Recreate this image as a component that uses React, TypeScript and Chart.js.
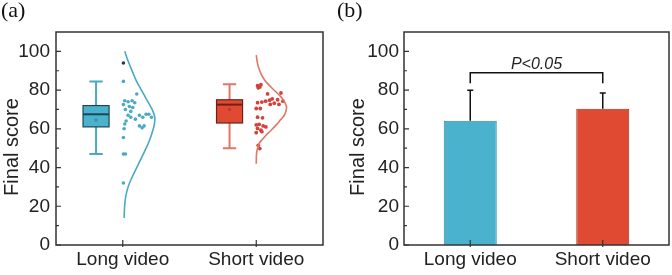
import React, { useEffect, useRef } from "react";
import { Chart, registerables } from "chart.js";
Chart.register(...registerables);

// ---------- shared ----------
const categories = ["Long video", "Short video"];
const yTicks = [0, 20, 40, 60, 80, 100];
const yMinorTicks = [10, 30, 50, 70, 90];
const yTitle = "Final score";

// ---------- panel (a) data ----------
const longPointsDx = [0.005, 0.015, 0.04, 0.07, 0.09, 0.005, 0.05, 0.075, 0.02, 0.06, 0.175, 0.195, 0.125, 0.15, 0.04, 0.06, 0.095, 0.025, 0.015, 0.125, 0.145, 0.16, 0.215, 0.01, 0.005, 0.005, 0.02, 0.005, 0.105];
const longPointsY = [84.5, 74.5, 74, 74.5, 73.5, 72.5, 71.5, 71, 70, 69, 67.5, 67.5, 67, 66, 67, 66, 65, 64, 62.5, 61.5, 60.5, 61.5, 66, 60, 55.5, 47, 47, 32, 78];
const longHighDx = [0.005];
const longHighY = [94];

const shortPointsDx = [0.01, 0.027, 0.015, 0.035, 0.085, 0.185, 0.12, 0.16, 0.2, 0.1, 0.07, 0.01, 0.042, 0.105, 0.135, 0.17, 0, 0.03, 0.01, 0.047, 0, 0.022, 0.052, 0.072, 0.01, 0.035, 0, 0.042, 0.015, 0.027];
const shortPointsY = [82.3, 81.6, 81.2, 82.8, 78, 78.5, 75.5, 75, 74.3, 74.8, 74.3, 73.5, 73.8, 72.6, 73.2, 72.6, 70.5, 70.5, 66, 65.7, 62, 62.3, 61.5, 61, 60.2, 59.3, 58, 58.5, 51.5, 49.8];

const longCurveY = [100, 95, 90, 85, 80, 75, 70, 66, 62, 58, 54, 50, 45, 40, 35, 30, 25, 20, 14];
const longCurveDx = [0.015, 0.04, 0.07, 0.1, 0.14, 0.18, 0.22, 0.24, 0.236, 0.22, 0.2, 0.175, 0.14, 0.105, 0.07, 0.04, 0.022, 0.014, 0.01];
const shortCurveY = [98, 93, 88.5, 85, 81.6, 76.5, 73.5, 71.3, 69, 67, 64.5, 61.9, 59, 56.7, 54.5, 52.4, 49.5, 47.3, 42];
const shortCurveDx = [0, 0.012, 0.035, 0.065, 0.11, 0.185, 0.215, 0.227, 0.222, 0.21, 0.18, 0.148, 0.108, 0.073, 0.045, 0.022, 0.008, 0.002, 0];

const boxLow = [47, 50];
const boxQ1 = [61, 63];
const boxMedian = [67.5, 72.5];
const boxQ3 = [72, 75];
const boxHigh = [84.5, 83];
const boxMean = [64.5, 70];

// ---------- panel (b) data ----------
const barMeans = [64.2, 70.3];
const barErrUpper = [79.9, 78.5];
const bracketY = 89;
const bracketFootY = 83.5;
const pLabel = "P<0.05";

// ---------- styles ----------
const BLUE = "#4ab2cd";
const BLUE_LINE = "#4aa9c4";
const BLUE_DARK = "#1d4656";
const RED = "#e04a33";
const RED_LINE = "#e27664";
const RED_PT = "#d4413a";
const RED_DARK = "#6e2016";
const TXT = "#222222";
const SANS = "'Liberation Sans', Arial, sans-serif";
const SERIF = "'Liberation Serif', 'Times New Roman', serif";

function framePlugin(panelLabel: string, titleX: number) {
  return {
    id: "frame" + panelLabel,
    afterDraw(chart: any) {
      const { ctx, chartArea: a } = chart;
      const ys = chart.scales.y;
      const xs = chart.scales.x;
      ctx.save();
      ctx.strokeStyle = "#333";
      ctx.lineWidth = 1.5;
      ctx.strokeRect(a.left, a.top, a.right - a.left, a.bottom - a.top);
      ctx.lineWidth = 1.2;
      ctx.beginPath();
      yTicks.forEach((v) => {
        const p = ys.getPixelForValue(v);
        ctx.moveTo(a.left, p);
        ctx.lineTo(a.left + 5, p);
      });
      yMinorTicks.forEach((v) => {
        const p = ys.getPixelForValue(v);
        ctx.moveTo(a.left, p);
        ctx.lineTo(a.left + 3, p);
      });
      xs.ticks.forEach((t: any, i: number) => {
        const p = xs.getPixelForTick(i);
        ctx.moveTo(p, a.bottom + 2);
        ctx.lineTo(p, a.bottom - 5);
      });
      ctx.stroke();
      // y title
      ctx.fillStyle = TXT;
      ctx.font = `20px ${SANS}`;
      ctx.textAlign = "center";
      ctx.textBaseline = "middle";
      ctx.translate(titleX, 147);
      ctx.rotate(-Math.PI / 2);
      ctx.fillText(yTitle, 0, 0);
      ctx.restore();
      // panel label
      ctx.save();
      ctx.fillStyle = "#111";
      ctx.font = `22px ${SERIF}`;
      ctx.textAlign = "left";
      ctx.textBaseline = "alphabetic";
      ctx.fillText(panelLabel, 1, 17);
      ctx.restore();
    },
  };
}

const boxPlugin = {
  id: "boxes",
  afterDatasetsDraw(chart: any) {
    const { ctx } = chart;
    const xs = chart.scales.x;
    const ys = chart.scales.y;
    const fills = [BLUE, RED];
    const lines = [BLUE_LINE, RED_LINE];
    const darks = [BLUE_DARK, RED_DARK];
    ctx.save();
    categories.forEach((_, i) => {
      const c = i + 1 - 0.2;
      const cx = xs.getPixelForValue(c);
      const hw = xs.getPixelForValue(c + 0.0975) - cx;
      const cw = xs.getPixelForValue(c + 0.05) - cx;
      const pLow = ys.getPixelForValue(boxLow[i]);
      const pQ1 = ys.getPixelForValue(boxQ1[i]);
      const pMed = ys.getPixelForValue(boxMedian[i]);
      const pQ3 = ys.getPixelForValue(boxQ3[i]);
      const pHigh = ys.getPixelForValue(boxHigh[i]);
      const pMean = ys.getPixelForValue(boxMean[i]);
      ctx.strokeStyle = lines[i];
      ctx.lineWidth = 2;
      ctx.beginPath();
      ctx.moveTo(cx, pQ3);
      ctx.lineTo(cx, pHigh);
      ctx.moveTo(cx - cw, pHigh);
      ctx.lineTo(cx + cw, pHigh);
      ctx.moveTo(cx, pQ1);
      ctx.lineTo(cx, pLow);
      ctx.moveTo(cx - cw, pLow);
      ctx.lineTo(cx + cw, pLow);
      ctx.stroke();
      ctx.fillStyle = fills[i];
      ctx.fillRect(cx - hw, pQ3, hw * 2, pQ1 - pQ3);
      ctx.strokeStyle = darks[i];
      ctx.lineWidth = 1.2;
      ctx.strokeRect(cx - hw, pQ3, hw * 2, pQ1 - pQ3);
      ctx.lineWidth = 2;
      ctx.beginPath();
      ctx.moveTo(cx - hw, pMed);
      ctx.lineTo(cx + hw, pMed);
      ctx.stroke();
      ctx.fillStyle = i === 0 ? "#3d8ea6" : "#c23a28";
      ctx.fillRect(cx - 1.5, pMean - 1.5, 3, 3);
    });
    ctx.restore();
  },
};

const errPlugin = {
  id: "errs",
  afterDatasetsDraw(chart: any) {
    const { ctx } = chart;
    const xs = chart.scales.x;
    const ys = chart.scales.y;
    ctx.save();
    ctx.strokeStyle = "#111";
    ctx.lineWidth = 1.5;
    ctx.beginPath();
    categories.forEach((_, i) => {
      const x = xs.getPixelForValue(i);
      const yb = ys.getPixelForValue(barMeans[i]);
      const yt = ys.getPixelForValue(barErrUpper[i]);
      ctx.moveTo(x, yb);
      ctx.lineTo(x, yt);
      ctx.moveTo(x - 3, yt);
      ctx.lineTo(x + 3, yt);
    });
    const x0 = xs.getPixelForValue(0);
    const x1 = xs.getPixelForValue(1);
    const by = ys.getPixelForValue(bracketY);
    const bf = ys.getPixelForValue(bracketFootY);
    ctx.moveTo(x0, bf);
    ctx.lineTo(x0, by);
    ctx.lineTo(x1, by);
    ctx.lineTo(x1, bf);
    ctx.stroke();
    ctx.fillStyle = TXT;
    ctx.font = `italic 16px ${SANS}`;
    ctx.textAlign = "center";
    ctx.textBaseline = "alphabetic";
    ctx.fillText(pLabel, (x0 + x1) / 2, by - 4);
    ctx.restore();
  },
};

const tickFont = { family: SANS, size: 19 };

function PanelA() {
  const ref = useRef<HTMLCanvasElement>(null);
  useEffect(() => {
    const pts = (dx: number[], y: number[], i: number) => y.map((v, k) => ({ x: i + 1 + dx[k], y: v }));
    const chart = new Chart(ref.current!, {
      type: "scatter",
      data: {
        datasets: [
          { data: pts(longCurveDx, longCurveY, 0), showLine: true, borderColor: BLUE_LINE, borderWidth: 1.6, pointRadius: 0, tension: 0.4, fill: false } as any,
          { data: pts(shortCurveDx, shortCurveY, 1), showLine: true, borderColor: RED_LINE, borderWidth: 1.6, pointRadius: 0, tension: 0.4, fill: false } as any,
          { data: pts(longPointsDx, longPointsY, 0), pointRadius: 1.8, pointBackgroundColor: BLUE_LINE, pointBorderWidth: 0, showLine: false },
          { data: pts(longHighDx, longHighY, 0), pointRadius: 1.8, pointBackgroundColor: "#1f3a4a", pointBorderWidth: 0, showLine: false },
          { data: pts(shortPointsDx, shortPointsY, 1), pointRadius: 1.9, pointBackgroundColor: RED_PT, pointBorderWidth: 0, showLine: false },
        ],
      },
      options: {
        animation: false,
        responsive: false,
        devicePixelRatio: 1,
        layout: { padding: { top: 32, right: 13, left: 0, bottom: 0 } },
        plugins: { legend: { display: false }, tooltip: { enabled: false } },
        scales: {
          x: {
            type: "linear",
            min: 0.5,
            max: 2.5,
            grid: { display: false, drawTicks: false },
            border: { display: false },
            afterBuildTicks: (s: any) => {
              s.ticks = categories.map((_, i) => ({ value: i + 1 }));
            },
            afterFit: (s: any) => {
              s.height = 30;
            },
            ticks: {
              autoSkip: false,
              maxRotation: 0,
              padding: 3,
              color: TXT,
              font: tickFont,
              callback: (v: any) => categories[Math.round(Number(v)) - 1] ?? "",
            },
          },
          y: {
            min: 0,
            max: 110,
            grid: { display: false, drawTicks: false },
            border: { display: false },
            afterBuildTicks: (s: any) => {
              s.ticks = yTicks.map((v) => ({ value: v }));
            },
            afterFit: (s: any) => {
              s.width = 56;
            },
            ticks: { autoSkip: false, padding: 6, color: TXT, font: tickFont },
          },
        },
      },
      plugins: [boxPlugin, framePlugin("(a)", 12)],
    });
    return () => chart.destroy();
  }, []);
  return <canvas ref={ref} width={336} height={275} style={{ display: "block", width: 336, height: 275 }} />;
}

function PanelB() {
  const ref = useRef<HTMLCanvasElement>(null);
  useEffect(() => {
    const chart = new Chart(ref.current!, {
      type: "bar",
      data: {
        labels: categories,
        datasets: [
          {
            data: barMeans,
            backgroundColor: [BLUE, RED],
            borderColor: ["#3b8397", "#9a3222"],
            borderWidth: 1,
            barPercentage: 0.4,
            categoryPercentage: 1,
          },
        ],
      },
      options: {
        animation: false,
        responsive: false,
        devicePixelRatio: 1,
        layout: { padding: { top: 32, right: 3, left: 0, bottom: 0 } },
        plugins: { legend: { display: false }, tooltip: { enabled: false } },
        scales: {
          x: {
            grid: { display: false, drawTicks: false },
            border: { display: false },
            afterFit: (s: any) => {
              s.height = 30;
            },
            ticks: { autoSkip: false, maxRotation: 0, padding: 3, color: TXT, font: tickFont },
          },
          y: {
            min: 0,
            max: 110,
            grid: { display: false, drawTicks: false },
            border: { display: false },
            afterBuildTicks: (s: any) => {
              s.ticks = yTicks.map((v) => ({ value: v }));
            },
            afterFit: (s: any) => {
              s.width = 68;
            },
            ticks: { autoSkip: false, padding: 5, color: TXT, font: tickFont },
          },
        },
      },
      plugins: [errPlugin, framePlugin("(b)", 22)],
    });
    return () => chart.destroy();
  }, []);
  return <canvas ref={ref} width={336} height={275} style={{ display: "block", width: 336, height: 275 }} />;
}

export default function App() {
  return (
    <div style={{ position: "absolute", left: 0, top: 0, width: 672, height: 275, display: "flex", background: "#fff" }}>
      <PanelA />
      <PanelB />
    </div>
  );
}
